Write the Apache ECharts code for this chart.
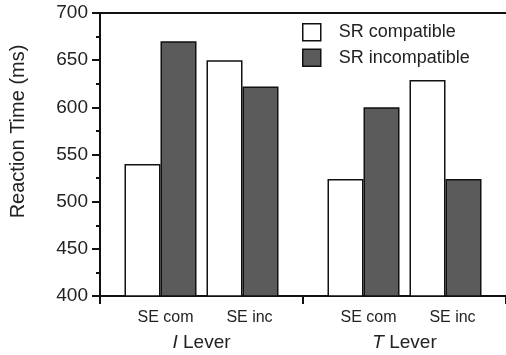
<!DOCTYPE html>
<html>
<head>
<meta charset="utf-8">
<script src="https://cdn.jsdelivr.net/npm/echarts@6/dist/echarts.min.js"></script>
<style>
  html, body { margin: 0; padding: 0; background: #fff; }
  #chart { width: 506px; height: 355px; }
</style>
</head>
<body>
<div id="chart"></div>
<script>
// lever groups (first letter is drawn in italics)
const leverLetters = ["I", "T"];
const leverWord = "Lever";
const seLabels = ["SE com", "SE inc"];

// reaction time (ms), one value per lever group
const compatSeCom = [540, 524];
const incompatSeCom = [670, 600];
const compatSeInc = [650, 629];
const incompatSeInc = [622, 524];

const yTicks = [400, 450, 500, 550, 600, 650, 700];

const FONT = "Liberation Sans, Arial, Helvetica, sans-serif";
const DARK = "#5b5b5b";

const chart = echarts.init(document.getElementById("chart"));

const barStyle = (fill) => ({
  color: fill,
  borderColor: "#111",
  borderWidth: 1.5,
});

const option = {
  animation: false,
  textStyle: { fontFamily: FONT },
  grid: { left: 100, right: -4, top: 13, bottom: 57 },
  legend: {
    orient: "vertical",
    left: 297,
    top: 18,
    itemWidth: 18,
    itemHeight: 17,
    itemGap: 7,
    icon: "rect",
    textStyle: { fontSize: 18, color: "#222", padding: [0, 0, 0, 13] },
    data: [
      { name: "SR compatible", itemStyle: barStyle("#fff") },
      { name: "SR incompatible", itemStyle: barStyle(DARK) },
    ],
  },
  xAxis: [
    {
      type: "category",
      data: leverLetters,
      axisLine: { lineStyle: { color: "#111", width: 2 } },
      axisTick: { show: true, length: 8, lineStyle: { color: "#111", width: 2 } },
      axisLabel: {
        margin: 9,
        lineHeight: 25,
        formatter: (v) =>
          "{s|}{a|" + seLabels[0] + "}{a|" + seLabels[1] + "}\n{i|" + v + "}{w| " + leverWord + "}",
        rich: {
          s: { width: 12 },
          a: { width: 84, align: "center", fontSize: 16, color: "#222", fontFamily: FONT, lineHeight: 25 },
          i: { fontSize: 19, fontStyle: "italic", color: "#222", fontFamily: FONT, lineHeight: 25 },
          w: { fontSize: 19, color: "#222", fontFamily: FONT, lineHeight: 25 },
        },
      },
    },
    {
      type: "category",
      position: "top",
      data: leverLetters,
      axisLine: { lineStyle: { color: "#111", width: 2 } },
      axisTick: { show: false },
      axisLabel: { show: false },
    },
  ],
  yAxis: {
    type: "value",
    min: yTicks[0],
    max: yTicks[yTicks.length - 1],
    interval: 50,
    name: "Reaction Time (ms)",
    nameLocation: "middle",
    nameGap: 72,
    nameTextStyle: { fontSize: 20, color: "#222", fontFamily: FONT, padding: [0, 0, 0, 46] },
    axisLine: { show: true, lineStyle: { color: "#111", width: 2 } },
    axisTick: { show: true, length: 8, lineStyle: { color: "#111", width: 2 } },
    minorTick: { show: true, splitNumber: 2, length: 4, lineStyle: { color: "#111", width: 2 } },
    splitLine: { show: false },
    axisLabel: { fontSize: 19, color: "#222", margin: 12, fontFamily: FONT },
  },
  series: [
    {
      name: "SR compatible",
      type: "bar",
      barWidth: 36,
      barGap: "0%",
      itemStyle: barStyle("#fff"),
      data: compatSeCom,
    },
    {
      name: "SR incompatible",
      type: "bar",
      barWidth: 36,
      barGap: "0%",
      itemStyle: barStyle(DARK),
      data: incompatSeCom,
    },
    {
      // empty slot that opens the gap between the SE com and SE inc pairs
      name: "gap",
      type: "bar",
      barWidth: 10,
      barGap: "0%",
      data: [null, null],
    },
    {
      name: "SR compatible",
      type: "bar",
      barWidth: 36,
      barGap: "0%",
      itemStyle: barStyle("#fff"),
      data: compatSeInc,
    },
    {
      name: "SR incompatible",
      type: "bar",
      barWidth: 36,
      barGap: "0%",
      itemStyle: barStyle(DARK),
      data: incompatSeInc,
    },
  ],
};

chart.setOption(option);
</script>
</body>
</html>
